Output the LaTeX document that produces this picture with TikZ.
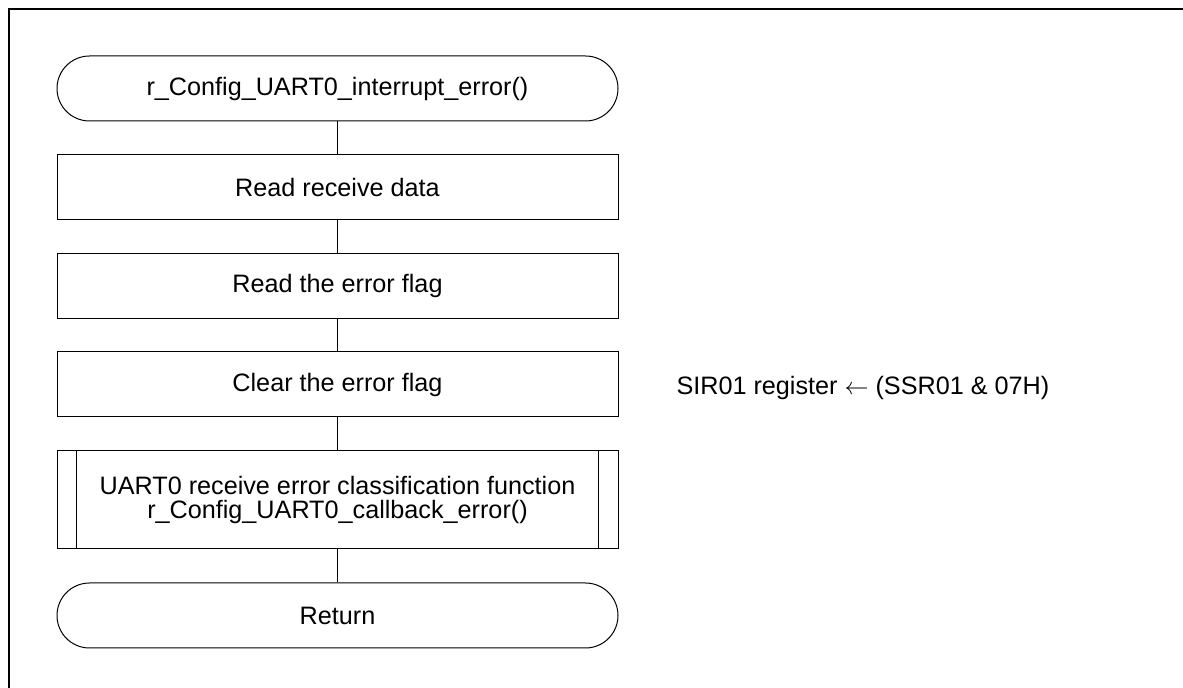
\documentclass[tikz,border=0pt]{standalone}
\usepackage{fontspec}
\setmainfont{Liberation Sans}
\usetikzlibrary{positioning}
\tikzset{
	term/.style={draw,rectangle,rounded corners=16.25pt,minimum width=280.5pt,minimum height=32.5pt,inner sep=0pt},
	proc/.style={draw,rectangle,minimum width=280.5pt,minimum height=32.5pt,inner sep=0pt},
	predef/.style={draw,rectangle,minimum width=280.5pt,minimum height=49pt,inner sep=0pt,align=center},
}

\begin{document}
\begin{tikzpicture}[x=0.5pt,y=-0.5pt,line width=0.5pt,font=\fontsize{12.6}{12.4}\selectfont]
		\useasboundingbox (0,0) rectangle (1183,688);
		\draw[line width=1.2pt] (9,688) -- (9,9) -- (1183,9);

		\node[term] (start) at (337.5,88.5) {r\_Config\_UART0\_interrupt\_error()};
		\node[proc] (rdata) at (337.5,187.5) {Read receive data};
		\node[proc] (rflag) at (337.5,286) {Read the error flag};
		\node[proc] (cflag) at (337.5,384.5) {Clear the error flag};
		\node[predef] (cbk) at (337.5,500) {UART0 receive error classification function\\r\_Config\_UART0\_callback\_error()};
		\node[term] (ret) at (337.5,615.5) {Return};

		\draw ([xshift=10pt]cbk.north west) -- ([xshift=10pt]cbk.south west);
		\draw ([xshift=-10pt]cbk.north east) -- ([xshift=-10pt]cbk.south east);

		\node[anchor=base west,inner sep=0pt] (note) at (676,395) {SIR01 register $\leftarrow$ (SSR01 \& 07H)};

		\draw (start) -- (rdata);
		\draw (rdata) -- (rflag);
		\draw (rflag) -- (cflag);
		\draw (cflag) -- (cbk);
		\draw[line width=0.8pt] (cbk) -- (ret);
\end{tikzpicture}
\end{document}
